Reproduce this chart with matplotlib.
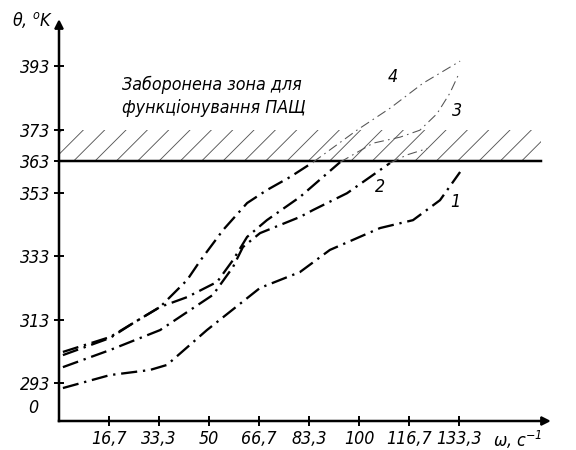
import numpy as np
import matplotlib.pyplot as plt

# шрифт для підписів (вузький курсив, як на кресленні)
plt.rcParams['font.family'] = ['DejaVu Sans']
plt.rcParams['font.style'] = 'oblique'
plt.rcParams['font.stretch'] = 'condensed'
plt.rcParams['mathtext.default'] = 'it'

# крива 1
x1 = [1.3, 17, 30.3, 36, 49.3, 67, 80.3, 90.3, 107, 118, 127, 133.7]
y1 = [291.4, 295.5, 297.1, 298.7, 309.7, 323.0, 328.0, 335.0, 341.9, 344.4, 350.7, 359.6]
# крива 2
x2 = [1.3, 17, 33.7, 51.3, 58, 61.3, 67, 80.3, 84.7, 96, 110.3]
y2 = [298.0, 303.4, 309.7, 320.8, 329.6, 335.9, 340.3, 345.4, 347.6, 352.9, 362.4]
x2_thin = [110.3, 116, 122.7]
y2_thin = [362.4, 365, 367.0]
# крива 3
x3 = [1.3, 17, 24.7, 33.7, 42.7, 52.7, 58, 62.7, 69.3, 80.3, 93.7]
y3 = [302.8, 307.5, 311.9, 317.0, 320.1, 324.9, 331.8, 339.1, 344.4, 351.7, 362.7]
x3_thin = [93.7, 104.7, 113.7, 120.3, 126, 130.3, 133]
y3_thin = [362.7, 368.7, 370.6, 372.8, 378, 384.5, 390]
# крива 4
x4 = [1.3, 17, 24.7, 33.7, 42.7, 47, 54.7, 62.7, 69.3, 77, 84.7]
y4 = [301.8, 307.2, 311.9, 317.0, 325.5, 331.5, 341.3, 349.8, 353.9, 358.0, 362.7]
x4_thin = [84.7, 99.3, 110.3, 121.3, 133.7]
y4_thin = [362.7, 372.8, 379.7, 387.6, 394.6]

xticks = [16.7, 33.3, 50, 66.7, 83.3, 100, 116.7, 133.3]
xlabels = ['16,7', '33,3', '50', '66,7', '83,3', '100', '116,7', '133,3']
yticks = [293, 313, 333, 353, 363, 373, 393]
limit = 363      # межа забороненої зони
zone_top = 373

fig = plt.figure(figsize=(4.5, 3.515625), dpi=128)
ax = fig.add_axes([59 / 576, 29 / 450, 486 / 576, 396 / 450])
ax.set_xlim(0, 162)
ax.set_ylim(281, 406)

# заборонена зона
plt.rcParams['hatch.linewidth'] = 0.5
ax.fill_between([0, 160.7], limit, zone_top, facecolor='none', edgecolor='#555555',
                linewidth=0, hatch='//')
ax.plot([0, 160.7], [limit, limit], color='black', lw=1.4)

dd = (0, (7, 2.5, 1, 2.5))
dd_thin = (0, (9, 4, 1.5, 4))
for xs, ys in [(x1, y1), (x2, y2), (x3, y3), (x4, y4)]:
    ax.plot(xs, ys, color='black', lw=1.3, linestyle=dd)
for xs, ys in [(x2_thin, y2_thin), (x3_thin, y3_thin), (x4_thin, y4_thin)]:
    ax.plot(xs, ys, color='#555555', lw=0.6, linestyle=dd_thin)

fs = 10
# номери кривих
ax.text(132, 350, '1', fontsize=fs, ha='center', va='center')
ax.text(107, 355, '2', fontsize=fs, ha='center', va='center')
ax.text(132.7, 379, '3', fontsize=fs, ha='center', va='center')
ax.text(111.3, 389.5, '4', fontsize=fs, ha='center', va='center')
ax.text(21, 387, 'Заборонена зона для', fontsize=fs, ha='left', va='center')
ax.text(21, 379.7, 'функціонування ПАЩ', fontsize=fs, ha='left', va='center')

# осі
for s in ['top', 'right']:
    ax.spines[s].set_visible(False)
for s in ['left', 'bottom']:
    ax.spines[s].set_linewidth(1.4)
ax.plot(1, 0, '>k', transform=ax.transAxes, clip_on=False, markersize=5)
ax.plot(0, 1, '^k', transform=ax.transAxes, clip_on=False, markersize=5)

ax.set_xticks(xticks)
ax.set_xticklabels(xlabels)
ax.set_yticks(yticks)
ax.set_yticklabels([str(v) for v in yticks])
ax.tick_params(direction='inout', length=6, width=1.1, labelsize=fs, pad=2)
ax.text(-7, 285.1, '0', fontsize=fs, ha='right', va='center')

fig.text(12 / 576, 1 - 20 / 450, 'θ, $^o$K', fontsize=fs, ha='left', va='center')
fig.text(493 / 576, 1 - 440 / 450, 'ω, с$^{-1}$', fontsize=fs, ha='left', va='center')

plt.savefig('out.png', dpi=128)
